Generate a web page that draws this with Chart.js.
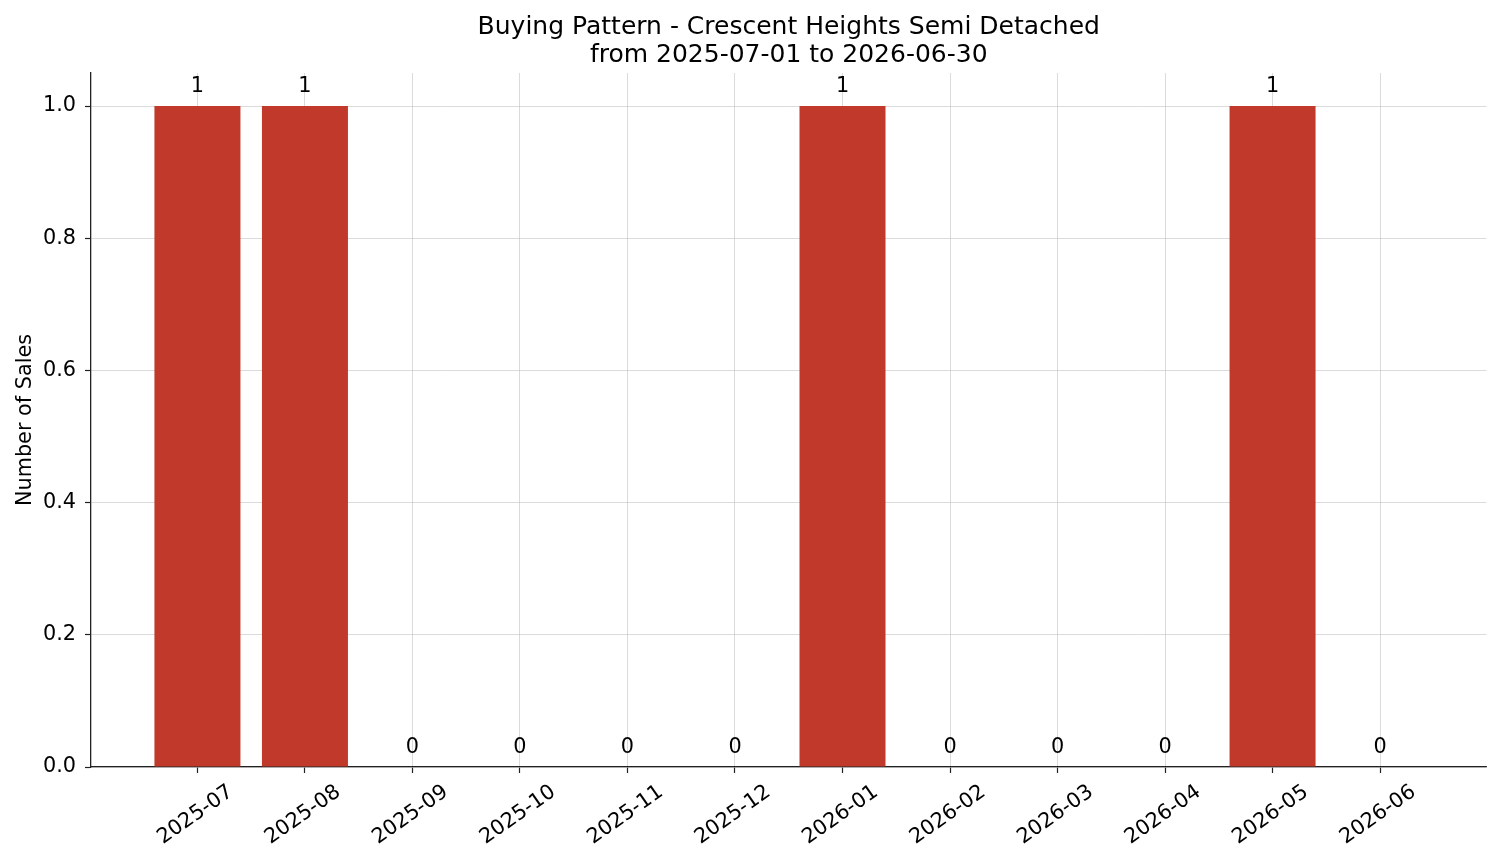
<!DOCTYPE html>
<html>
<head>
<meta charset="utf-8">
<script src="https://cdn.jsdelivr.net/npm/chart.js@4.4.1/dist/chart.umd.min.js"></script>
<style>
  html, body { margin: 0; padding: 0; background: #fff; }
  #wrap { width: 1501px; height: 863px; }
</style>
</head>
<body>
<div id="wrap"><canvas id="c" width="1501" height="863"></canvas></div>
<script>
const categories = ["2025-07","2025-08","2025-09","2025-10","2025-11","2025-12","2026-01","2026-02","2026-03","2026-04","2026-05","2026-06"];
const sales = [1,1,0,0,0,0,1,0,0,0,1,0];
const yTicks = [0,0.2,0.4,0.6,0.8,1.0];
const titleLines = ["Buying Pattern - Crescent Heights Semi Detached", "from 2025-07-01 to 2026-06-30"];

const FONT = "'DejaVu Sans', sans-serif";
const BASE = 20.8;
const gridColor = 'rgba(190,190,190,0.7)';

const overlay = {
  id: 'overlay',
  afterDraw(chart) {
    const ctx = chart.ctx;
    const xs = chart.scales.x;
    const meta = chart.getDatasetMeta(0);
    ctx.save();
    ctx.fillStyle = '#000';
    ctx.font = BASE + "px " + FONT;
    ctx.textAlign = 'center';
    ctx.textBaseline = 'alphabetic';
    meta.data.forEach((bar, i) => {
      ctx.fillText(String(sales[i]), bar.x, bar.y - 14);
    });
    const ang = -35 * Math.PI / 180;
    ctx.textBaseline = 'middle';
    xs.ticks.forEach(t => {
      const px = xs.getPixelForValue(t.value);
      ctx.save();
      ctx.translate(px - 2, xs.top + 48);
      ctx.rotate(ang);
      ctx.fillText(categories[t.value], 0, 0);
      ctx.restore();
    });
    ctx.restore();
  }
};

const gridOpts = {
  display: true,
  offset: false,
  color: gridColor,
  lineWidth: 0.8,
  borderDash: [4, 3],
  drawTicks: true,
  tickLength: 6,
  tickColor: '#222',
  tickWidth: 1.2,
  tickBorderDash: []
};

new Chart(document.getElementById('c'), {
  type: 'bar',
  data: {
    datasets: [{
      data: sales.map((v, i) => ({ x: i, y: v })),
      backgroundColor: '#c0392b',
      borderWidth: 0,
      barPercentage: 0.8,
      categoryPercentage: 1.0
    }]
  },
  options: {
    responsive: false,
    animation: false,
    devicePixelRatio: 1,
    layout: { padding: { left: 0, right: 14.5, top: 0, bottom: 0 } },
    plugins: {
      legend: { display: false },
      tooltip: { enabled: false },
      title: {
        display: true,
        fullSize: false,
        text: titleLines,
        color: '#000',
        font: { family: FONT, size: 25, weight: 'normal', lineHeight: 1.12 },
        padding: { top: 13, bottom: 4 }
      }
    },
    scales: {
      x: {
        type: 'linear',
        min: -0.99,
        max: 11.99,
        offset: false,
        z: 1,
        afterBuildTicks(scale) { scale.ticks = categories.map((_, i) => ({ value: i })); },
        afterFit(scale) { scale.height = 96; },
        ticks: { display: false },
        grid: gridOpts,
        border: { display: true, color: '#222', width: 1.3 }
      },
      y: {
        min: 0,
        max: 1.05,
        z: 1,
        afterBuildTicks(scale) { scale.ticks = yTicks.map(v => ({ value: v })); },
        afterFit(scale) { scale.width = 91; },
        ticks: {
          color: '#000',
          padding: 9,
          font: { family: FONT, size: BASE },
          callback: v => Number(v).toFixed(1)
        },
        grid: gridOpts,
        border: { display: true, color: '#222', width: 1.3 },
        title: {
          display: true,
          text: 'Number of Sales',
          color: '#000',
          font: { family: FONT, size: BASE },
          padding: { top: 13, bottom: 0 }
        }
      }
    }
  },
  plugins: [overlay]
});
</script>
</body>
</html>
